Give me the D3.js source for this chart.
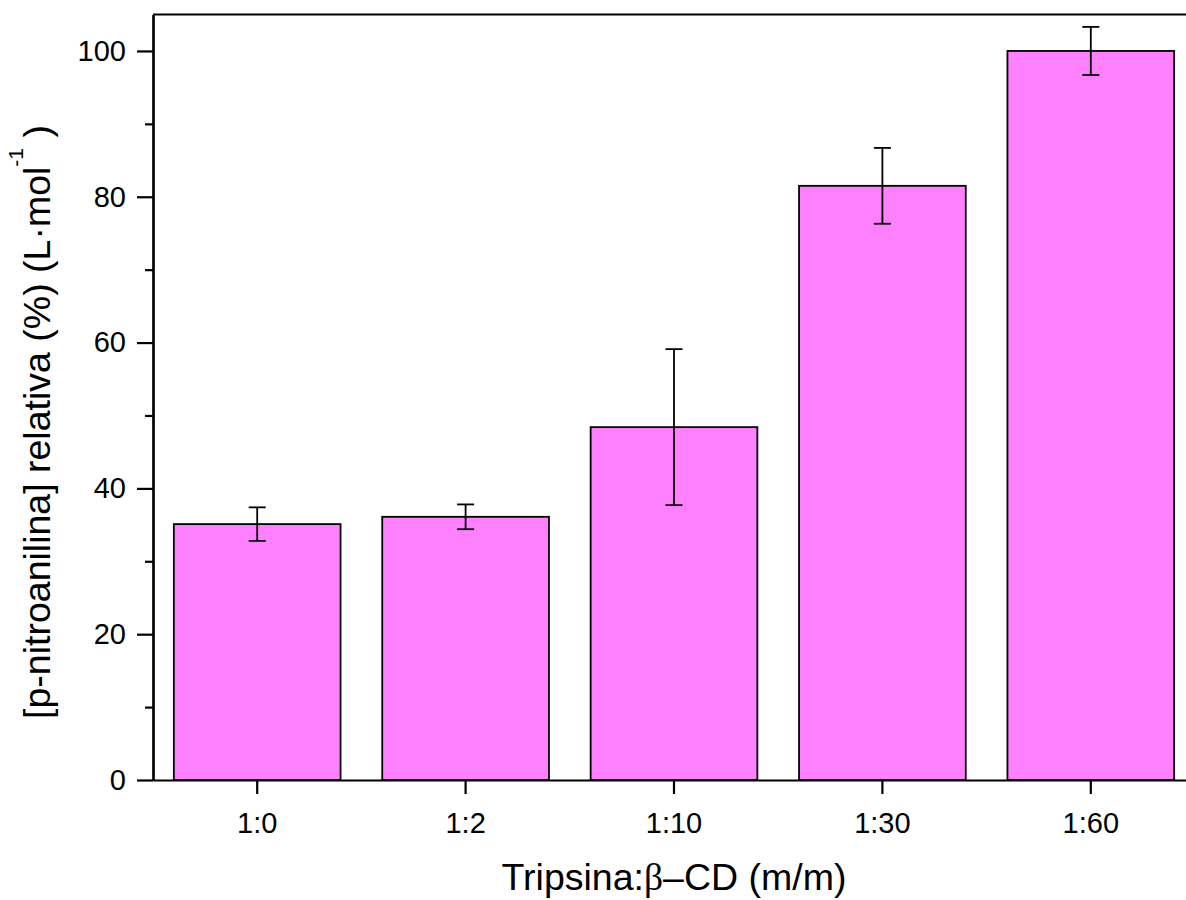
<!DOCTYPE html>
<html>
<head>
<meta charset="utf-8">
<script src="https://cdn.jsdelivr.net/npm/d3@7"></script>
<style>
  html, body { margin: 0; padding: 0; background: #fff; }
  svg { display: block; }
  text { font-family: "Liberation Sans", Arial, sans-serif; fill: #000; }
</style>
</head>
<body>
<svg id="chart" width="1186" height="900"></svg>
<script>
const categories = ["1:0", "1:2", "1:10", "1:30", "1:60"];
const values = [35.1, 36.1, 48.4, 81.5, 100.0];
const errors = [2.3, 1.7, 10.7, 5.2, 3.3];
const yMajorTicks = [0, 20, 40, 60, 80, 100];
const yMinorTicks = [10, 30, 50, 70, 90];

const svg = d3.select("#chart");
const mLeft = 153, mRight = 1195, mTop = 14.5, mBottom = 780;

const x = d3.scaleBand().domain(categories).range([mLeft, mRight])
  .paddingInner(0.2).paddingOuter(0.1);
const y = d3.scaleLinear().domain([0, 105]).range([mBottom, mTop]);

// bars
svg.append("g").selectAll("rect").data(categories).join("rect")
  .attr("x", d => x(d))
  .attr("y", (d, i) => y(values[i]))
  .attr("width", x.bandwidth())
  .attr("height", (d, i) => y(0) - y(values[i]))
  .attr("fill", "#ff80ff")
  .attr("stroke", "#000")
  .attr("stroke-width", 1.8);

// error bars
const eg = svg.append("g").attr("stroke", "#000").attr("stroke-width", 1.8);
categories.forEach((c, i) => {
  const cx = x(c) + x.bandwidth() / 2;
  const y1 = y(values[i] + errors[i]);
  const y2 = y(values[i] - errors[i]);
  eg.append("line").attr("x1", cx).attr("x2", cx).attr("y1", y1).attr("y2", y2);
  eg.append("line").attr("x1", cx - 8.5).attr("x2", cx + 8.5).attr("y1", y1).attr("y2", y1);
  eg.append("line").attr("x1", cx - 8.5).attr("x2", cx + 8.5).attr("y1", y2).attr("y2", y2);
});

// frame (top and right)
svg.append("line").attr("x1", mLeft).attr("x2", mRight).attr("y1", mTop).attr("y2", mTop)
  .attr("stroke", "#000").attr("stroke-width", 2.2);
svg.append("line").attr("x1", mRight).attr("x2", mRight).attr("y1", mTop).attr("y2", mBottom)
  .attr("stroke", "#000").attr("stroke-width", 2.2);

// y axis
svg.append("g").attr("transform", `translate(${mLeft},0)`)
  .call(d3.axisLeft(y).tickValues(yMajorTicks).tickSize(16).tickPadding(11).tickSizeOuter(0));
svg.append("g").attr("transform", `translate(${mLeft},0)`)
  .call(d3.axisLeft(y).tickValues(yMinorTicks).tickSize(8).tickFormat("").tickSizeOuter(0));

// x axis
svg.append("g").attr("transform", `translate(0,${mBottom})`)
  .call(d3.axisBottom(x).tickSize(14).tickPadding(18).tickSizeOuter(0));

svg.selectAll(".domain").attr("stroke", "#000").attr("stroke-width", 2.2);
svg.selectAll(".tick line").attr("stroke", "#000").attr("stroke-width", 2.2);
svg.selectAll(".tick text").attr("font-size", 29).attr("font-family", "Liberation Sans, Arial, sans-serif").attr("fill", "#000");

// x axis title
const xt = svg.append("text")
  .attr("x", 674)
  .attr("y", 890)
  .attr("text-anchor", "middle")
  .attr("font-size", 37.5);
xt.append("tspan").text("Tripsina:");
xt.append("tspan").attr("font-family", "Liberation Serif, serif").text("β");
xt.append("tspan").text("–CD (m/m)");

// y axis title
const yt = svg.append("text")
  .attr("transform", "translate(50,422) rotate(-90)")
  .attr("text-anchor", "middle")
  .attr("font-size", 37.5);
yt.append("tspan").text("[p-nitroanilina] relativa (%) (L·mol");
yt.append("tspan").attr("font-size", 21).attr("dy", -27).text("-1");
yt.append("tspan").attr("dy", 27).text(" )");
</script>
</body>
</html>
